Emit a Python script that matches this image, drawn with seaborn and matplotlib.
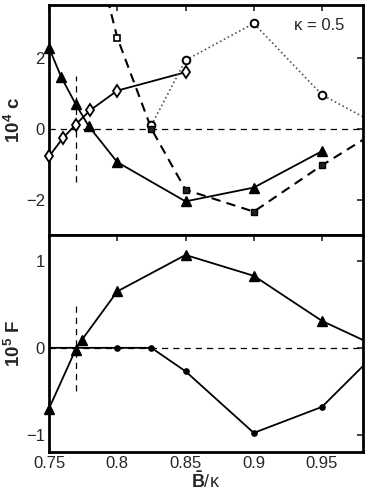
import numpy as np
import seaborn as sns
import matplotlib.pyplot as plt
import pandas as pd

# top panel: 10^4 c
tri_x = [0.75, 0.759, 0.7695, 0.779, 0.80, 0.85, 0.90, 0.95]
tri_c = [2.29, 1.46, 0.70, 0.08, -0.94, -2.05, -1.66, -0.63]
dia_x = [0.75, 0.760, 0.7695, 0.780, 0.80, 0.85]
dia_c = [-0.78, -0.27, 0.12, 0.52, 1.08, 1.60]
sq_x = [0.775, 0.80, 0.825, 0.85, 0.90, 0.95, 0.98]
sq_c = [6.4, 2.58, 0.0, -1.72, -2.34, -1.03, -0.31]
sq_open = [False, True, False, False, False, False, False]
circ_x = [0.825, 0.85, 0.90, 0.95, 0.98]
circ_c = [0.10, 1.94, 2.98, 0.96, 0.34]
circ_mark = [True, True, True, True, False]

# bottom panel: 10^5 F
triF_x = [0.75, 0.7695, 0.774, 0.80, 0.85, 0.90, 0.95, 0.98]
triF = [-0.70, -0.02, 0.09, 0.65, 1.07, 0.83, 0.31, 0.09]
triF_mark = [True, True, True, True, True, True, True, False]
dot_x = [0.75, 0.80, 0.825, 0.85, 0.90, 0.95, 0.98]
dotF = [0.0, 0.0, 0.0, -0.27, -0.98, -0.68, -0.21]
dot_mark = [False, True, True, True, True, True, False]

xticks = [0.75, 0.8, 0.85, 0.9, 0.95]
xtick_labels = ['0.75', '0.8', '0.85', '0.9', '0.95']

sns.set_style('white')
plt.rcParams['font.family'] = ['Liberation Sans', 'DejaVu Sans']
plt.rcParams['mathtext.fontset'] = 'custom'
plt.rcParams['mathtext.rm'] = 'Liberation Sans'
plt.rcParams['mathtext.bf'] = 'Liberation Sans:bold'
plt.rcParams['mathtext.it'] = 'Liberation Sans:italic'

fig = plt.figure(figsize=(3.69, 4.93), dpi=100)
ax1 = fig.add_axes([0.1328, 0.5233, 0.8509, 0.4666])
ax2 = fig.add_axes([0.1328, 0.0832, 0.8509, 0.4401])

k = 'black'

# ---- top panel
ax1.axhline(0, color=k, ls=(0, (5, 4)), lw=0.9)
ax1.plot([0.77, 0.77], [-1.5, 1.5], color=k, ls=(0, (5, 4)), lw=0.9)
sns.lineplot(x=tri_x, y=tri_c, ax=ax1, color=k, lw=1.3, sort=False)
ax1.plot(tri_x, tri_c, '^', ms=7, color=k, zorder=4, clip_on=False)
sns.lineplot(x=dia_x, y=dia_c, ax=ax1, color=k, lw=1.3, sort=False)
ax1.plot(dia_x, dia_c, 'd', ms=6.5, mfc='white', mec=k, mew=1.3, zorder=4,
         clip_on=False)
sns.lineplot(x=circ_x, y=circ_c, ax=ax1, color='#555555', lw=1.2, sort=False,
             ls=(0, (1, 1.6)))
cm = np.array(circ_mark)
ax1.plot(np.array(circ_x)[cm], np.array(circ_c)[cm], 'o', ms=5.5, mfc='white',
         mec=k, mew=1.4, zorder=4)
sns.lineplot(x=sq_x, y=sq_c, ax=ax1, color=k, lw=1.5, sort=False,
             ls=(0, (4.5, 3)))
so = np.array(sq_open)
sxa, sca = np.array(sq_x), np.array(sq_c)
ax1.plot(sxa[so], sca[so], 's', ms=4.5, mfc='white', mec=k, mew=1.2, zorder=5)
ax1.plot(sxa[~so][1:-1], sca[~so][1:-1], 's', ms=4.5, mfc='#222222', mec=k,
         mew=1.0, zorder=5)
ax1.text(0.86, 0.91, 'κ = 0.5', transform=ax1.transAxes, ha='center',
         va='center', fontsize=12)
ax1.set_ylim(-3, 3.5)
ax1.set_yticks([-2, 0, 2])
ax1.set_yticklabels(['\u22122', '0', '2'])
ax1.set_ylabel(r'$\mathbf{10^4\ c}$', fontsize=13.5, labelpad=1)

# ---- bottom panel
ax2.axhline(0, color=k, ls=(0, (5, 4)), lw=0.9)
ax2.plot([0.77, 0.77], [-0.5, 0.5], color=k, ls=(0, (5, 4)), lw=0.9)
sns.lineplot(x=dot_x, y=dotF, ax=ax2, color=k, lw=1.3, sort=False)
dm = np.array(dot_mark)
ax2.plot(np.array(dot_x)[dm], np.array(dotF)[dm], 'o', ms=3.8, color=k, zorder=4)
sns.lineplot(x=triF_x, y=triF, ax=ax2, color=k, lw=1.3, sort=False)
tm = np.array(triF_mark)
ax2.plot(np.array(triF_x)[tm], np.array(triF)[tm], '^', ms=7, color=k,
         zorder=4, clip_on=False)
ax2.set_ylim(-1.2, 1.3)
ax2.set_yticks([-1, 0, 1])
ax2.set_yticklabels(['\u22121', '0', '1'])
ax2.set_ylabel(r'$\mathbf{10^5\ F}$', fontsize=13.5, labelpad=1)
ax2.set_xlabel(r'$\mathbf{\bar{B}}$/κ', fontsize=13, labelpad=0)

for ax in (ax1, ax2):
    ax.set_xlim(0.75, 0.98)
    ax.set_xticks(xticks)
    ax.tick_params(direction='in', top=True, right=True, length=4, width=1.2,
                   labelsize=12, pad=3)
    for s in ax.spines.values():
        s.set_linewidth(2)
        s.set_color(k)
ax1.set_xticklabels([])
ax2.set_xticklabels(xtick_labels)

fig.savefig('out.png', dpi=100)
